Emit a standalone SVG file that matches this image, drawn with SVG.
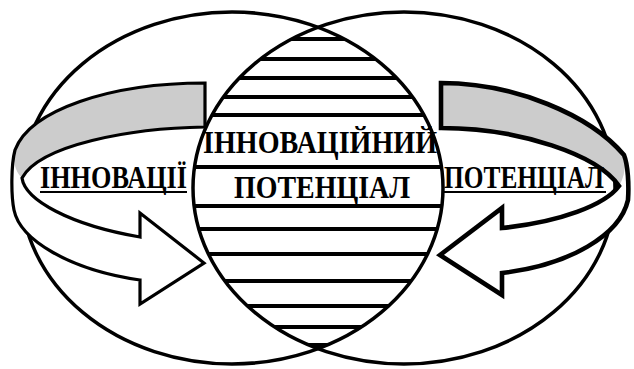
<svg xmlns="http://www.w3.org/2000/svg" width="634" height="369" viewBox="0 0 634 369">
<style>
.ell{fill:none;stroke:#000;stroke-width:3.5}
.hatch{stroke:#000;stroke-width:4}
.rib{fill:#fff;stroke:none}
.ribline{fill:none;stroke:#000;stroke-width:3.2;stroke-linejoin:miter}
.ribline2{fill:none;stroke:#000;stroke-width:4.6;stroke-linejoin:miter}
.gray{fill:#cccccc;stroke:none}
.t{font-family:'Liberation Serif','DejaVu Serif',serif;font-weight:700;font-size:32px;fill:#000}
.ul{stroke:#000;stroke-width:2}
</style>
<defs>
<clipPath id="cL"><ellipse cx="232" cy="188" rx="211" ry="176"/></clipPath>
<clipPath id="cR"><ellipse cx="404" cy="188" rx="211" ry="176"/></clipPath>
</defs>
<g id="lens-hatch" clip-path="url(#cL)">
<g clip-path="url(#cR)">
<line class="hatch" x1="180" y1="39" x2="460" y2="39"/>
<line class="hatch" x1="180" y1="59" x2="460" y2="59"/>
<line class="hatch" x1="180" y1="78" x2="460" y2="78"/>
<line class="hatch" x1="180" y1="97" x2="460" y2="97"/>
<line class="hatch" x1="180" y1="115" x2="460" y2="115"/>
<line class="hatch" x1="180" y1="167" x2="460" y2="167"/>
<line class="hatch" x1="180" y1="206" x2="460" y2="206"/>
<line class="hatch" x1="180" y1="229" x2="460" y2="229"/>
<line class="hatch" x1="180" y1="254" x2="460" y2="254"/>
<line class="hatch" x1="180" y1="281" x2="460" y2="281"/>
<line class="hatch" x1="180" y1="306" x2="460" y2="306"/>
<line class="hatch" x1="180" y1="327" x2="460" y2="327"/>
<line class="hatch" x1="180" y1="345" x2="460" y2="345"/>
</g>
</g>
<g id="ellipse-left"><ellipse class="ell" cx="232" cy="188" rx="211" ry="176"/></g>
<g id="ellipse-right"><ellipse class="ell" cx="404" cy="188" rx="211" ry="176"/></g>
<g id="connectors">
<g id="arrow-left">
<path class="rib" d="M205,83 C110,83 30,110 15,150 C11,165 11,195 14,210 C20,240 70,270 140,280 L140,304 L204,263 L140,213 L140,237 C70,225 25,200 22,178 C40,145 130,128 205,127 Z"/>
<path class="gray" d="M205,83 C110,83 30,110 15,150 C13,160 14,170 22,178 C40,145 130,128 205,127 Z"/>
<path class="ribline" d="M205,83 C110,83 30,110 15,150 C11,165 11,195 14,210 C20,240 70,270 140,280 L140,304 L204,263 L140,213 L140,237 C70,225 25,200 22,178 C40,145 130,128 205,127 Z"/>
</g>
<g id="arrow-right">
<path class="rib" d="M441,83 C515,83 590,115 624,155 C628,165 629,185 628,200 C620,235 570,265 502,273 L502,295 L440,255 L502,208 L502,228 C560,222 605,205 619,186 C598,155 520,128 441,128 Z"/>
<path class="gray" d="M441,83 C515,83 590,115 624,155 C626,165 625,176 619,186 C598,155 520,128 441,128 Z"/>
<path class="ribline2" d="M441,83 C515,83 590,115 624,155 C628,165 629,185 628,200 C620,235 570,265 502,273 L502,295 L440,255 L502,208 L502,228 C560,222 605,205 619,186 C598,155 520,128 441,128 Z"/>
</g>
</g>
<g id="node-center">
<text class="t" x="203" y="153" textLength="234" lengthAdjust="spacingAndGlyphs">ІННОВАЦІЙНИЙ</text>
<text class="t" x="234" y="198" textLength="176" lengthAdjust="spacingAndGlyphs">ПОТЕНЦІАЛ</text>
</g>
<g id="node-left">
<text class="t" x="40" y="188" textLength="147" lengthAdjust="spacingAndGlyphs">ІННОВАЦІЇ</text>
<line class="ul" x1="40" y1="192" x2="187" y2="192"/>
</g>
<g id="node-right">
<text class="t" x="444" y="188" textLength="160" lengthAdjust="spacingAndGlyphs">ПОТЕНЦІАЛ</text>
<line class="ul" x1="444" y1="192" x2="606" y2="192"/>
</g>
</svg>
